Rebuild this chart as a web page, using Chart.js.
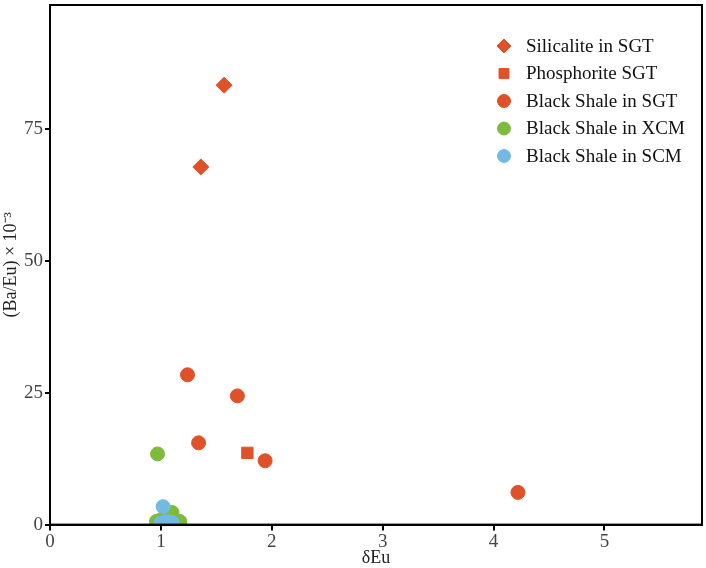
<!DOCTYPE html>
<html>
<head>
<meta charset="utf-8">
<script src="https://cdn.jsdelivr.net/npm/chart.js@4.4.0/dist/chart.umd.min.js"></script>
<style>
  html, body { margin: 0; padding: 0; background: #fff; }
  #wrap { width: 706px; height: 568px; }
</style>
</head>
<body>
<div id="wrap"><canvas id="scatterChart"></canvas></div>
<script>
// values: [δEu, (Ba/Eu) x 10^-3]
const silicaliteSGT = [[1.57, 83.3], [1.36, 67.8]];
const phosphoriteSGT = [[1.78, 13.6]];
const shaleSGT = [[1.24, 28.4], [1.69, 24.4], [1.34, 15.5], [1.94, 12.1], [4.22, 6.1]];
const shaleXCM = [[0.97, 13.4], [1.10, 2.3], [1.17, 0.6], [0.96, 0.6], [1.00, 0.9], [1.06, 1.2]];
const shaleSCM = [[1.02, 3.4], [1.05, 0.6], [1.10, 0.4], [1.00, 0.3], [1.08, 0.2]];
const xTicks = [0, 1, 2, 3, 4, 5];
const yTicks = [0, 25, 50, 75];

const red = '#DF5129';
const green = '#7DBB3C';
const blue = '#72BAE2';
const font = '"Liberation Serif", "Times New Roman", serif';

function pts(arr) {
    return arr.map(function(p) { return { x: p[0], y: p[1] }; });
}

const boxPlugin = {
    id: 'box',
    afterDraw: function(chart) {
        const a = chart.chartArea;
        const ctx = chart.ctx;
        ctx.save();
        ctx.strokeStyle = '#000';
        ctx.lineWidth = 2;
        ctx.strokeRect(a.left, a.top, a.right - a.left, a.bottom - a.top);
        // legend in the upper right corner
        ctx.font = '19px ' + font;
        ctx.textBaseline = 'middle';
        chart.data.datasets.forEach(function(ds, i) {
            const y = 46 + i * 27.5;
            ctx.fillStyle = ds.backgroundColor;
            ctx.strokeStyle = ds.backgroundColor;
            ctx.lineWidth = 1;
            Chart.helpers.drawPoint(ctx, { pointStyle: ds.pointStyle, radius: ds.pointStyle === 'circle' ? 6.5 : 7, borderWidth: 1 }, 504, y);
            ctx.fillStyle = '#111';
            ctx.fillText(ds.label, 526, y + 1);
        });
        ctx.restore();
    }
};

window.onload = function() {
    const ctx = document.getElementById('scatterChart').getContext('2d');

    const data = {
        datasets: [
            { label: 'Silicalite in SGT', data: pts(silicaliteSGT), pointStyle: 'rectRot', pointRadius: 8, backgroundColor: red, borderColor: red, order: 5 },
            { label: 'Phosphorite SGT', data: pts(phosphoriteSGT), pointStyle: 'rect', pointRadius: 8, backgroundColor: red, borderColor: red, order: 4 },
            { label: 'Black Shale in SGT', data: pts(shaleSGT), pointStyle: 'circle', pointRadius: 7, backgroundColor: red, borderColor: red, order: 3 },
            { label: 'Black Shale in XCM', data: pts(shaleXCM), pointStyle: 'circle', pointRadius: 7, backgroundColor: green, borderColor: green, order: 2 },
            { label: 'Black Shale in SCM', data: pts(shaleSCM), pointStyle: 'circle', pointRadius: 7, backgroundColor: blue, borderColor: blue, order: 1 }
        ]
    };

    const options = {
        responsive: true,
        maintainAspectRatio: false,
        animation: false,
        layout: { autoPadding: false, padding: { top: 5, right: 4, left: 0, bottom: -1 } },
        plugins: {
            legend: { display: false },
            tooltip: { enabled: false }
        },
        scales: {
            x: {
                type: 'linear',
                min: 0,
                max: 5.88,
                afterBuildTicks: function(axis) {
                    axis.ticks = xTicks.map(function(v) { return { value: v }; });
                },
                grid: { drawOnChartArea: false, tickLength: 6, color: '#000', lineWidth: 2 },
                border: { display: true, color: '#000', width: 2 },
                ticks: { color: '#444', font: { family: font, size: 19 }, padding: 0, maxRotation: 0 },
                title: { display: true, text: 'δEu', color: '#222', font: { family: font, size: 18 }, padding: { top: -6, bottom: 0 } }
            },
            y: {
                type: 'linear',
                min: 0,
                max: 98.5,
                afterBuildTicks: function(axis) {
                    axis.ticks = yTicks.map(function(v) { return { value: v }; });
                },
                afterFit: function(axis) {
                    axis.width = 50;
                    axis.paddingTop = 0;
                },
                grid: { drawOnChartArea: false, tickLength: 5, color: '#000', lineWidth: 2 },
                border: { display: true, color: '#000', width: 2 },
                ticks: { color: '#444', font: { family: font, size: 19 }, padding: 2 },
                title: { display: true, text: '(Ba/Eu) × 10⁻³', color: '#222', font: { family: font, size: 18 }, padding: { top: 0, bottom: 6 } }
            }
        }
    };

    new Chart(ctx, {
        type: 'scatter',
        data: data,
        options: options,
        plugins: [boxPlugin]
    });
};
</script>
</body>
</html>
